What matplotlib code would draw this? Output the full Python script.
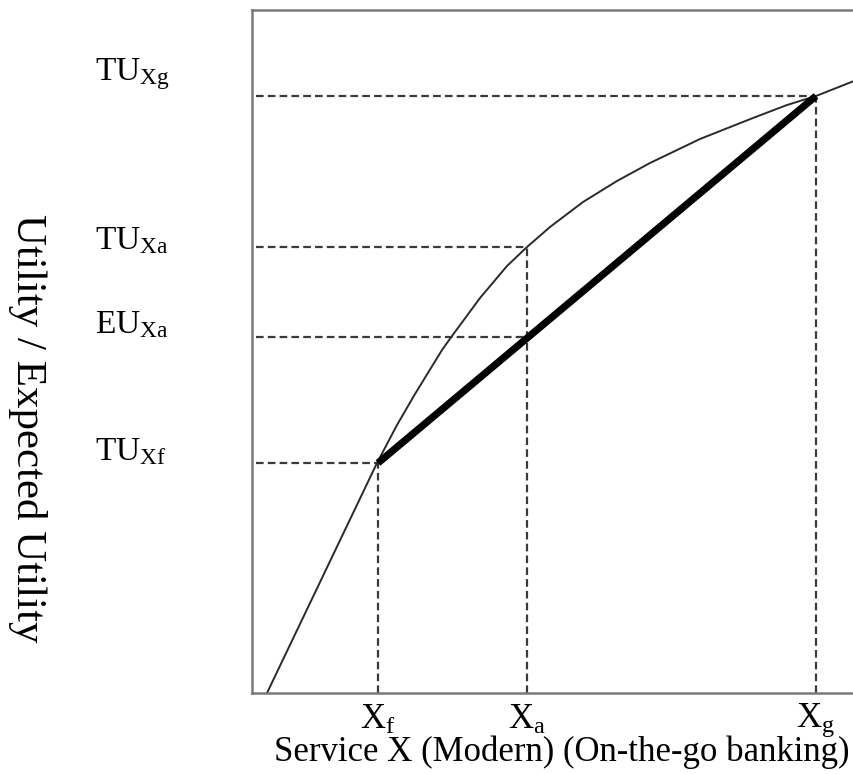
import matplotlib
matplotlib.use("Agg")
import matplotlib.pyplot as plt
import matplotlib.transforms as mtransforms

plt.rcParams['font.family'] = ['Liberation Serif', 'DejaVu Serif']
plt.rcParams['mathtext.fontset'] = 'custom'
plt.rcParams['mathtext.rm'] = 'Liberation Serif'
plt.rcParams['mathtext.it'] = 'Liberation Serif:italic'
plt.rcParams['lines.scale_dashes'] = False

# ---- data (arbitrary utility units) ----
curve_x = [15, 70, 125, 145, 163, 190, 200, 228, 255, 275, 298, 331, 365, 398, 448, 501, 535, 564, 602]
curve_y = [0, 115, 230, 268, 299, 343, 357, 395, 427, 446, 466, 491, 512, 530, 554, 575, 588, 597, 612]

point_names = ["f", "a", "g"]
point_x = [126, 275, 564]
point_tu = [230, 446, 597]
eu_a = 356

y_labels = [r"TU$_{\mathrm{Xg}}$", r"TU$_{\mathrm{Xa}}$", r"EU$_{\mathrm{Xa}}$", r"TU$_{\mathrm{Xf}}$"]
y_values = [point_tu[2], point_tu[1], eu_a, point_tu[0]]
x_labels = [r"X$_{\mathrm{f}}$", r"X$_{\mathrm{a}}$", r"X$_{\mathrm{g}}$"]

# ---- figure ----
fig = plt.figure(figsize=(8.54, 7.74), dpi=100)
ax = fig.add_axes([252/854, 1-693/774, 1-252/854, 683/774])
ax.set_xlim(0, 602)
ax.set_ylim(0, 683)

for s in ["left", "top", "bottom"]:
    ax.spines[s].set_color("#7a7a7a")
    ax.spines[s].set_linewidth(1.8)
ax.spines["right"].set_visible(False)
ax.set_xticks([])
ax.set_yticks([])

dash_kw = dict(color="#3a3a3a", lw=1.6, dashes=(5.5, 3.0))
# horizontal dashed guides
ax.plot([4, point_x[2]], [point_tu[2]] * 2, **dash_kw)
ax.plot([4, point_x[1]], [point_tu[1]] * 2, **dash_kw)
ax.plot([4, point_x[1]], [eu_a] * 2, **dash_kw)
ax.plot([4, point_x[0]], [point_tu[0]] * 2, **dash_kw)
# vertical dashed guides
for px, py in zip(point_x, point_tu):
    ax.plot([px, px], [0, py], **dash_kw)

# utility curve
ax.plot(curve_x, curve_y, color="#2a2a2a", lw=1.4, solid_joinstyle="round")
# expected utility chord
ax.plot([point_x[0], point_x[2]], [point_tu[0], point_tu[2]], color="black",
        lw=5.2, solid_capstyle="butt")

# y labels
y_off = [22, 6, 12, 11]
trans_y = mtransforms.blended_transform_factory(fig.transFigure, ax.transData)
for lab, v, off in zip(y_labels, y_values, y_off):
    ax.text(95/854, v + off, lab, transform=trans_y, fontsize=24,
            ha="left", va="center")

# x labels
trans_x = mtransforms.blended_transform_factory(ax.transData, fig.transFigure)
for lab, v in zip(x_labels, point_x):
    ax.text(v, 1-720/774, lab, transform=trans_x, fontsize=25,
            ha="center", va="center")

fig.text(562/854, 1-752/774, "Service X (Modern) (On-the-go banking)",
         fontsize=25, ha="center", va="center")
fig.text(27/854, 1-428/774, "Utility / Expected Utility", fontsize=31,
         rotation=-90, ha="center", va="center")

fig.savefig("out.png", dpi=100)
